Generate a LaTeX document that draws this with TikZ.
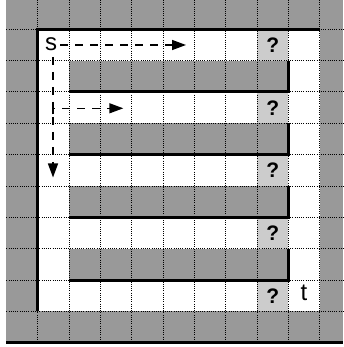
\documentclass[tikz,border=0pt]{standalone}
\usepackage{fontspec}
\setmainfont{Liberation Sans}
\usetikzlibrary{arrows.meta}
\definecolor{dk}{HTML}{999999}
\definecolor{lt}{HTML}{CCCCCC}
\begin{document}
\begin{tikzpicture}[x=1pt,y=-1pt,
  gridline/.style={line width=1pt,dash pattern=on 1pt off 1.2pt,black},
  wall/.style={line width=3pt,black},
  dsh/.style={line width=1.4pt,dash pattern=on 8pt off 7pt,-{Triangle[length=14pt,width=10pt]}},
  lbl/.style={font=\fontsize{24}{24}\selectfont,inner sep=3pt},
  qm/.style={font=\fontsize{21}{21}\selectfont\bfseries,inner sep=0pt}]
\useasboundingbox (0,0) rectangle (343,347);
\fill[white] (0,0) rectangle (343,347);
\fill[dk] (6.3,0) rectangle (343,342);
\fill[white] (37.65,29.3) rectangle (319.8,311.45);
\foreach \j in {1,3,5,7}
  \fill[dk] (69,{29.3+31.35*\j}) rectangle (288.45,{29.3+31.35*(\j+1)});
\foreach \j in {0,2,4,6,8}
  \fill[lt] (257.1,{29.3+31.35*\j}) rectangle (288.45,{29.3+31.35*(\j+1)});
\foreach \k in {1,...,10}
  \draw[gridline] ({6.3+31.35*\k},0) -- ({6.3+31.35*\k},342);
\foreach \j in {0,...,9}
  \draw[gridline] (6.3,{29.3+31.35*\j}) -- (343,{29.3+31.35*\j});
\draw[wall] (37.65,311.45) -- (37.65,29.3) -- (319.8,29.3);
\foreach \j in {1,3,5,7}
  \draw[wall] (69,{29.3+31.35*(\j+1)}) -- (288.45,{29.3+31.35*(\j+1)}) -- (288.45,{29.3+31.35*\j});
\draw[wall] (6.3,342) -- (343,342);
\foreach \j in {0,2,4,6,8}
  \node[qm] (q\j) at (272.8,{29.3+31.35*(\j+0.5)}) {?};
\node[lbl] (s) at (51,44) {s};
\node[lbl] (t) at (304,293) {t};
\coordinate (a1) at (186,45);
\coordinate (a2) at (53,177.5);
\coordinate (a3) at (123.3,108.3);
\draw[dsh] (s.east |- a1) -- (a1);
\draw[dsh] ([yshift=-3pt]s.south -| a2) -- (a2);
\draw[dsh] ([yshift=-6pt]a3 -| a2) |- (a3);
\end{tikzpicture}
\end{document}
